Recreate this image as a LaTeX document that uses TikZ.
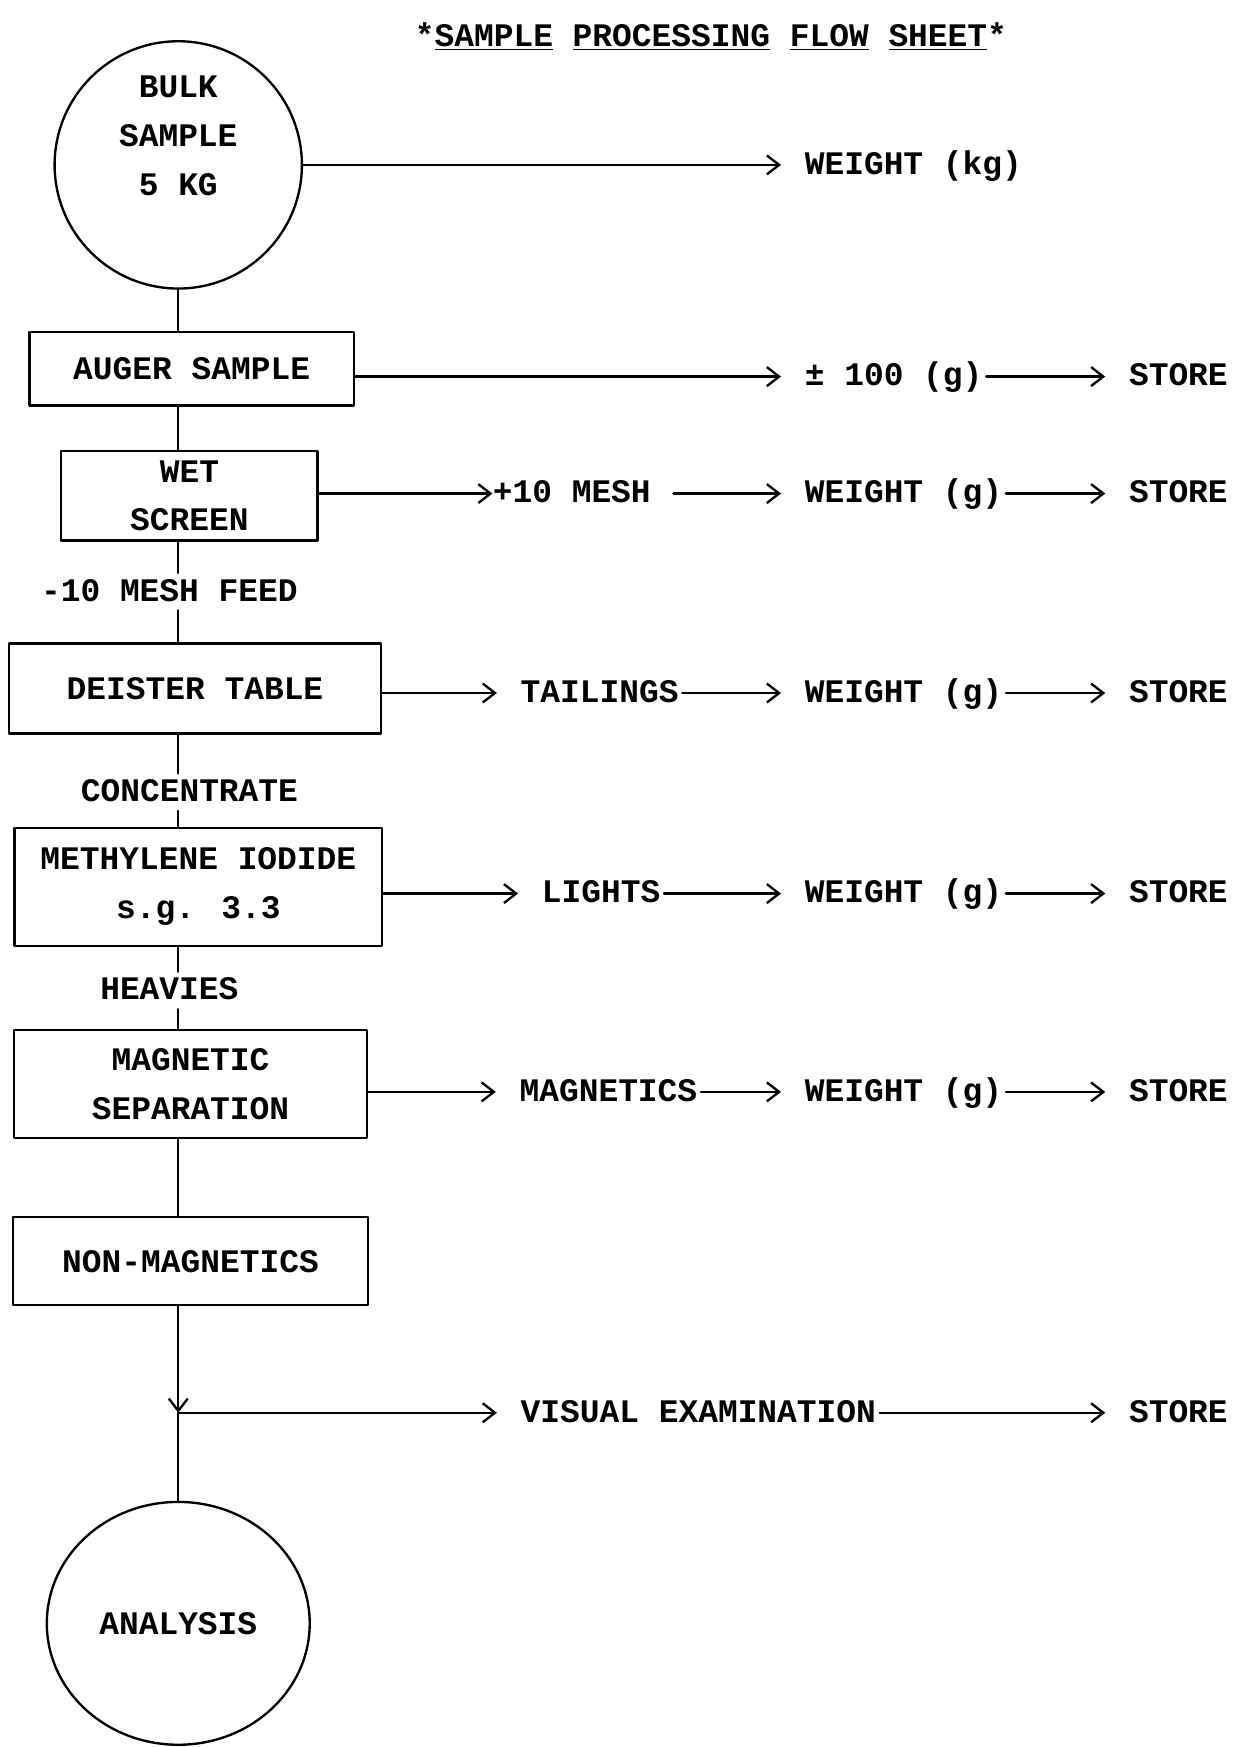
\documentclass[tikz,border=0pt]{standalone}
\usepackage{fontspec}
\setmainfont{Liberation Mono}
\usetikzlibrary{arrows.meta,shapes.geometric}

\tikzset{
  flow/.style={line width=1.2pt},
  barb/.style={-{Straight Barb[length=0.22cm,width=0.34cm]}},
  feed/.style={flow, barb, shorten >=0.42cm, shorten <=0.06cm},
  box/.style={draw, line width=1.2pt, align=center, inner sep=0pt},
  tag/.style={anchor=west, inner sep=0pt, text height=9.6pt, text depth=0pt},
  stream/.style={inner xsep=0pt, inner ysep=0.16cm, text height=9.6pt, text depth=0pt},
}

\begin{document}
\begin{tikzpicture}[x=0.02cm, y=-0.02cm, line cap=round, line join=round,
    font=\fontsize{16.8}{25}\selectfont\bfseries]
  \useasboundingbox (0,0) rectangle (1109,1568);

  % heading
  \node[anchor=west, inner sep=0pt] (title) at (372,33)
    {*\underline{SAMPLE} \underline{PROCESSING} \underline{FLOW} \underline{SHEET}*};

  % main column
  \node[box, circle, minimum size=4.44cm] (bulk) at (160,148) {};
  \node[align=center, inner sep=0pt] (bulktext) at (160,122) {BULK\\SAMPLE\\5 KG};
  \node[box, minimum width=5.82cm, minimum height=1.32cm] (auger) at (172,331) {AUGER SAMPLE};
  \node[box, minimum width=4.6cm, minimum height=1.6cm] (wet) at (170,445) {WET\\SCREEN};
  \node[stream] (feed) at (152,531) {-10 MESH FEED};
  \node[box, minimum width=6.68cm, minimum height=1.62cm] (deister) at (175,618) {DEISTER TABLE};
  \node[stream] (conc) at (170,711) {CONCENTRATE};
  \node[box, minimum width=6.6cm, minimum height=2.12cm] (iodide) at (178,796) {METHYLENE IODIDE\\s.g. 3.3};
  \node[stream] (heavy) at (152,889) {HEAVIES};
  \node[box, minimum width=6.34cm, minimum height=1.94cm] (magsep) at (171,973) {MAGNETIC\\SEPARATION};
  \node[box, minimum width=6.38cm, minimum height=1.58cm] (nonmag) at (171,1132) {NON-MAGNETICS};
  \coordinate (split) at (160,1268);
  \node[box, ellipse, minimum width=4.72cm, minimum height=4.36cm] (analysis) at (160,1457) {ANALYSIS};

  \draw[flow] (bulk.south) -- (bulk.south |- auger.north);
  \foreach \a/\b in {auger.south/wet.north, wet.south/feed.north, feed.south/deister.north,
      deister.south/conc.north, conc.south/iodide.north, iodide.south/heavy.north,
      heavy.south/magsep.north, magsep.south/nonmag.north}
    \draw[flow] (bulk.south |- \a) -- (bulk.south |- \b);
  \draw[flow, barb] (bulk.south |- nonmag.south) -- (split);
  \draw[flow] (split) -- (analysis.north);

  % side streams
  \node[tag] (kg) at (722,148) {WEIGHT (kg)};
  \draw[feed, shorten <=0pt] (bulk.east) -- (kg.west);

  \node[tag] (hundred) at (722,338) {± 100 (g)};
  \node[tag] (stauger) at (1013,338) {STORE};
  \draw[feed, shorten <=0pt] (auger.east |- hundred.west) -- (hundred.west);
  \draw[feed] (hundred.east) -- (stauger.west);

  \node[tag] (plus) at (442,443) {+10 MESH};
  \node[tag] (wtplus) at (722,443) {WEIGHT (g)};
  \node[tag] (stplus) at (1013,443) {STORE};
  \draw[feed, shorten <=0pt, shorten >=0pt] (wet.east |- plus.west) -- (plus.west);
  \draw[feed, shorten <=0.4cm] (plus.east) -- (wtplus.west);
  \draw[feed] (wtplus.east) -- (stplus.west);

  \node[tag] (tail) at (467,622) {TAILINGS};
  \node[tag] (light) at (486,802) {LIGHTS};
  \node[tag] (mags) at (466,980) {MAGNETICS};
  \foreach \src/\name/\y in {deister/tail/622, iodide/light/802, magsep/mags/980}{
    \node[tag] (wt\name) at (722,\y) {WEIGHT (g)};
    \node[tag] (st\name) at (1013,\y) {STORE};
    \draw[feed, shorten <=0pt] (\src.east |- \name.west) -- (\name.west);
    \draw[feed] (\name.east) -- (wt\name.west);
    \draw[feed] (wt\name.east) -- (st\name.west);
  }

  \node[tag] (visual) at (467,1268) {VISUAL EXAMINATION};
  \node[tag] (stvisual) at (1013,1268) {STORE};
  \draw[feed, shorten <=0pt] (split) -- (visual.west);
  \draw[feed] (visual.east) -- (stvisual.west);
\end{tikzpicture}
\end{document}
